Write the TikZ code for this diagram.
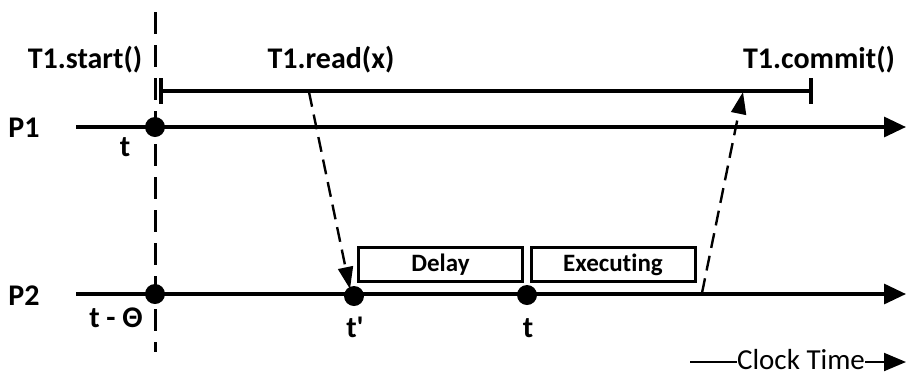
\documentclass[tikz,border=0pt]{standalone}
\usepackage{fontspec}
\setmainfont[Ligatures={NoCommon}]{Carlito}
\usetikzlibrary{arrows.meta}
\begin{document}
\begin{tikzpicture}[x=1pt,y=-1pt,
  axis/.style={line width=3.2pt,-{Triangle[length=22pt,width=20pt]}},
  bar/.style={line width=3.4pt},
  tick/.style={line width=3.2pt},
  sync/.style={line width=3pt,dash pattern=on 22pt off 11pt},
  msg/.style={line width=2.4pt,dash pattern=on 15pt off 8pt,-{Triangle[length=22pt,width=15pt]}},
  dot/.style={circle,fill=black,inner sep=0pt,minimum size=20pt},
  lbl/.style={font=\fontsize{30}{36}\selectfont\bfseries,anchor=base,inner sep=0pt},
  phase/.style={draw,line width=3pt,minimum width=164pt,minimum height=34pt,inner sep=0pt,
    text height=18pt,text depth=5pt,font=\fontsize{25}{30}\selectfont\bfseries},
  clock/.style={font=\fontsize{29}{34}\selectfont,anchor=base,inner sep=0pt,text depth=0pt}]
\useasboundingbox (0,0) rectangle (906,376);

% process time lines
\coordinate (p1s) at (76,127);
\coordinate (p1e) at (906,127);
\coordinate (p2s) at (76,294);
\coordinate (p2e) at (906,294);
\draw[axis] (p1s) -- (p1e);
\draw[axis] (p2s) -- (p2e);

% synchronisation instant
\coordinate (syt) at (155,12);
\coordinate (syb) at (155,352);
\draw[sync] (syt) -- (syb);

% transaction span
\coordinate (ts) at (161,91);
\coordinate (te) at (811,91);
\draw[bar] (ts) -- (te);
\draw[tick] (161,78) -- (161,104);
\draw[tick] (811,78) -- (811,104);

% phases on P2
\node[phase] (delay) at (440.5,264.5) {Delay};
\node[phase] (exec) at (613,264.5) {Executing};

% events
\node[dot] (e1) at (155,127) {};
\node[dot] (e2) at (155,294) {};
\node[dot] (e3) at (354,296) {};
\node[dot] (e4) at (527,295) {};

% messages
\coordinate (rd) at (309,92);
\coordinate (rdt) at (350,289);
\draw[msg] (rd) -- (rdt);
\coordinate (cm) at (702,293);
\coordinate (cmt) at (743,92);
\draw[msg] (cm) -- (cmt);

% labels
\node[lbl] (lstart) at (85,68) {T1.start()};
\node[lbl] (lread) at (331,68) {T1.read(x)};
\node[lbl] (lcommit) at (819,68) {T1.commit()};
\node[lbl] (lp1) at (24,137) {P1};
\node[lbl] (lp2) at (24,305) {P2};
\node[lbl] (lt1) at (125,156) {t};
\node[lbl] (ltt) at (116,327) {t - Θ};
\node[lbl] (ltp) at (355,337) {t\textquotesingle};
\node[lbl] (lt2) at (528,337) {t};

% clock time legend
\node[clock] (clk) at (801,369) {Clock Time};
\coordinate (cl) at (690,362);
\coordinate (cr) at (906,362);
\draw[line width=2pt] (cl) -- (cl -| clk.west);
\draw[line width=2pt,-{Triangle[length=22pt,width=18pt]}] (clk.east |- cr) -- (cr);
\end{tikzpicture}
\end{document}
